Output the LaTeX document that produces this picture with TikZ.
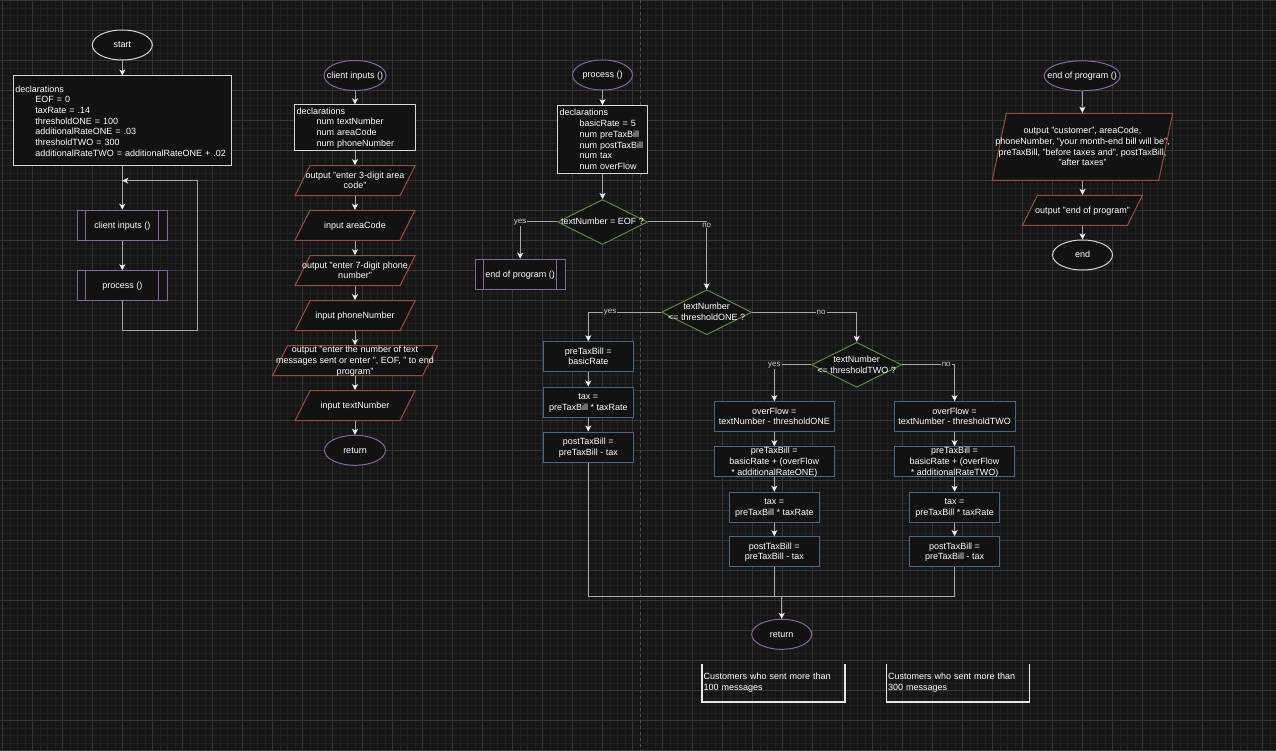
\documentclass[tikz,border=0pt]{standalone}
\usepackage{fontspec}
\setmainfont{Liberation Sans}
\usetikzlibrary{arrows.meta,shapes.geometric}

\definecolor{bgcol}{HTML}{161616}
\definecolor{gridminor}{HTML}{212121}
\definecolor{gridmajor}{HTML}{353535}
\definecolor{pagecol}{HTML}{4E4E4E}
\definecolor{boxfill}{HTML}{121212}
\definecolor{linecol}{HTML}{A8A8A8}
\definecolor{tipcol}{HTML}{EEEEEE}
\definecolor{lblcol}{HTML}{D0D0D0}
\definecolor{whiteb}{HTML}{D6D6D6}
\definecolor{purpleb}{HTML}{83699A}
\definecolor{redb}{HTML}{9A4A47}
\definecolor{greenb}{HTML}{62844A}
\definecolor{blueb}{HTML}{4E6480}
\definecolor{notecol}{HTML}{E6E6E6}

\newcommand{\ctxt}[1]{\smash{\makebox[0pt]{\raisebox{-3pt}{\begin{tabular}{@{}c@{}}#1\end{tabular}}}}}
\newcommand{\ind}{\hspace*{20pt}}

\tikzset{
    shp/.style={fill=boxfill, line width=1pt, inner sep=0pt, text=white, font=\fontsize{9}{10.7}\selectfont},
    term/.style={shp, ellipse, draw=purpleb, minimum width=#1, minimum height=30pt},
    term/.default=60pt,
    termw/.style={term, draw=whiteb},
    decl/.style={shp, rectangle, draw=whiteb, inner sep=2pt, align=left},
    sub/.style={shp, rectangle, draw=purpleb, minimum width=90pt, minimum height=30pt,
        append after command={([xshift=9pt]\tikzlastnode.north west) edge[subln] ([xshift=9pt]\tikzlastnode.south west)
            ([xshift=-9pt]\tikzlastnode.north east) edge[subln] ([xshift=-9pt]\tikzlastnode.south east)}},
    subln/.style={draw=purpleb, line width=1pt},
    io/.style={shp, trapezium, draw=redb, trapezium left angle=63.4, trapezium right angle=116.6,
        trapezium stretches body, text height=15pt, text depth=15pt, minimum width=#1, minimum height=30pt},
    io/.default=120pt,
    cond/.style={shp, diamond, draw=greenb, minimum width=90pt, minimum height=45pt},
    calc/.style={shp, rectangle, draw=blueb, minimum width=#1, minimum height=30pt},
    calc/.default=90pt,
    note/.style={rectangle, text=white, font=\fontsize{9}{11}\selectfont, text width=140pt, align=left,
        inner sep=1.3pt, minimum height=37.4pt},
    notebr/.style={draw=notecol, line width=1.6pt},
    arr/.style={draw=linecol, line width=1pt, -{Stealth[length=6pt, width=6pt, inset=1.5pt, color=tipcol]}},
    ln/.style={draw=linecol, line width=1pt},
    lbl/.style={fill=bgcol, text=lblcol, inner sep=1pt, font=\fontsize{8}{9}\selectfont},
}

\begin{document}
\begin{tikzpicture}[x=1pt, y=-1pt]
    % background and grid
    \fill[bgcol] (0,0) rectangle (1276,751);
    \useasboundingbox (0,0) rectangle (1276,751);
    \begin{scope}
        \clip (0,0) rectangle (1276,751);
        \draw[gridminor, line width=0.5pt, shift={(2.3,0.3)}, step=7.5pt] (-30,780) grid (1300,-30);
        \draw[gridmajor, line width=0.7pt, shift={(2.3,0.3)}, step=30pt] (-30,780) grid (1300,-30);
    \end{scope}
    \draw[pagecol, line width=0.8pt, dash pattern=on 3pt off 3pt] (640.7,0) -- (640.7,751);

    % main
    \node[termw] (start) at (122.3,45) {\ctxt{start}};
    \node[decl, text width=214pt, minimum height=90pt] (decl0) at (122.3,121) {declarations\\
        \ind EOF = 0\\
        \ind taxRate = .14\\
        \ind thresholdONE = 100\\
        \ind additionalRateONE = .03\\
        \ind thresholdTWO = 300\\
        \ind additionalRateTWO = additionalRateONE + .02};
    \node[sub] (cin0) at (122.3,225.3) {\ctxt{client inputs ()}};
    \node[sub] (proc0) at (122.3,285.7) {\ctxt{process ()}};
    \coordinate (loop1) at (197.3,330);
    \coordinate (loop2) at (122.3,180.7);

    % client inputs
    \node[term=62pt] (cin) at (355,75.5) {\ctxt{client inputs ()}};
    \node[decl, text width=117pt, minimum height=46pt] (decl1) at (355,127.9) {declarations\\
        \ind num textNumber\\
        \ind num areaCode\\
        \ind num phoneNumber};
    \node[io] (io1) at (355,180.7) {\ctxt{output "enter 3-digit area\\code"}};
    \node[io] (io2) at (355,225.3) {\ctxt{input areaCode}};
    \node[io] (io3) at (355,270.7) {\ctxt{output "enter 7-digit phone\\number"}};
    \node[io] (io4) at (355,315.7) {\ctxt{input phoneNumber}};
    \node[io=165pt] (io5) at (355,360.7) {\ctxt{output "enter the number of text\\messages sent or enter ", EOF, " to end\\program"}};
    \node[io] (io6) at (355,405.7) {\ctxt{input textNumber}};
    \node[term=61pt] (ret1) at (355,450.3) {\ctxt{return}};

    % process
    \node[term] (proc) at (602.5,75) {\ctxt{process ()}};
    \node[decl, text width=86pt, minimum height=67.6pt] (decl2) at (602.5,139.5) {declarations\\
        \ind basicRate = 5\\
        \ind num preTaxBill\\
        \ind num postTaxBill\\
        \ind num tax\\
        \ind num overFlow};
    \node[cond] (d1) at (602.5,222) {\ctxt{textNumber = EOF ?}};
    \node[sub] (eop) at (520.2,274.2) {\ctxt{end of program ()}};
    \node[cond] (d2) at (706.7,312.2) {\ctxt{textNumber\\<= thresholdONE ?}};
    \node[calc] (b1) at (588.3,356.7) {\ctxt{preTaxBill =\\basicRate}};
    \node[calc] (b2) at (588.3,402) {\ctxt{tax =\\preTaxBill * taxRate}};
    \node[calc] (b3) at (588.3,447) {\ctxt{postTaxBill =\\preTaxBill - tax}};
    \node[cond] (d3) at (856.7,364.8) {\ctxt{textNumber\\<= thresholdTWO ?}};
    \node[calc=120pt] (c1) at (774.3,416.7) {\ctxt{overFlow =\\textNumber - thresholdONE}};
    \node[calc=120pt] (c2) at (774.3,461.7) {\ctxt{preTaxBill =\\basicRate + (overFlow\\{}* additionalRateONE)}};
    \node[calc] (c3) at (774.3,507.2) {\ctxt{tax =\\preTaxBill * taxRate}};
    \node[calc] (c4) at (774.3,551.7) {\ctxt{postTaxBill =\\preTaxBill - tax}};
    \node[calc=121pt] (e1) at (954.6,416.7) {\ctxt{overFlow =\\textNumber - thresholdTWO}};
    \node[calc=120pt] (e2) at (954.6,461.7) {\ctxt{preTaxBill =\\basicRate + (overFlow\\{}* additionalRateTWO)}};
    \node[calc] (e3) at (954.6,507.2) {\ctxt{tax =\\preTaxBill * taxRate}};
    \node[calc] (e4) at (954.6,551.7) {\ctxt{postTaxBill =\\preTaxBill - tax}};
    \coordinate (mrg) at (781.7,596);
    \node[term] (ret2) at (781.7,634.3) {\ctxt{return}};

    % the notes
    \node[note] (n100) at (773.7,683) {Customers who sent more than\\100 messages};
    \node[note] (n300) at (958,683) {Customers who sent more than\\300 messages};

    % end of program
    \node[term=76pt] (eops) at (1082.2,75.8) {\ctxt{end of program ()}};
    \node[io=180.4pt, minimum height=67pt, text height=33.5pt, text depth=33.5pt,
        trapezium left angle=78.2, trapezium right angle=101.8] (io7) at (1082.5,146.8)
        {\ctxt{output "customer", areaCode,\\phoneNumber, "your month-end bill will be",\\preTaxBill, "before taxes and", postTaxBill,\\"after taxes"}};
    \node[io] (io8) at (1082.5,210.3) {\ctxt{output "end of program"}};
    \node[termw] (endn) at (1082.5,255) {\ctxt{end}};

    % draw the arrows
    \draw[arr] (start) -- (decl0);
    \draw[arr] (decl0) -- (cin0);
    \draw[arr] (cin0) -- (proc0);
    \draw[arr] (proc0.south) |- (loop1) |- (loop2);

    \draw[arr] (cin) -- (decl1);
    \draw[arr] (decl1) -- (io1);
    \draw[arr] (io1) -- (io2);
    \draw[arr] (io2) -- (io3);
    \draw[arr] (io3) -- (io4);
    \draw[arr] (io4) -- (io5);
    \draw[arr] (io5) -- (io6);
    \draw[arr] (io6) -- (ret1);

    \draw[arr] (proc) -- (decl2);
    \draw[arr] (decl2) -- (d1);
    \draw[arr] (d1.west) -| node[lbl] {yes} (eop.north);
    \draw[arr] (d1.east) -| node[lbl, yshift=-3pt] {no} (d2.north);
    \draw[arr] (d2.west) -| node[lbl, pos=0.35] {yes} (b1.north);
    \draw[arr] (d2.east) -| node[lbl, pos=0.33] {no} (d3.north);
    \draw[arr] (b1) -- (b2);
    \draw[arr] (b2) -- (b3);
    \draw[arr] (d3.west) -| node[lbl] {yes} (c1.north);
    \draw[arr] (d3.east) -| node[lbl, pos=0.42] {no} (e1.north);
    \draw[arr] (c1) -- (c2);
    \draw[arr] (c2) -- (c3);
    \draw[arr] (c3) -- (c4);
    \draw[arr] (e1) -- (e2);
    \draw[arr] (e2) -- (e3);
    \draw[arr] (e3) -- (e4);
    \draw[ln] (b3.south) |- (mrg);
    \draw[ln] (c4.south) |- (mrg);
    \draw[ln] (e4.south) |- (mrg);
    \draw[arr] (mrg) -- (ret2);

    \draw[notebr] (n100.north west) |- (n100.south east) -- (n100.north east);
    \draw[notebr] (n300.north west) |- (n300.south east) -- (n300.north east);

    \draw[arr] (eops) -- (io7);
    \draw[arr] (io7) -- (io8);
    \draw[arr] (io8) -- (endn);
\end{tikzpicture}
\end{document}
